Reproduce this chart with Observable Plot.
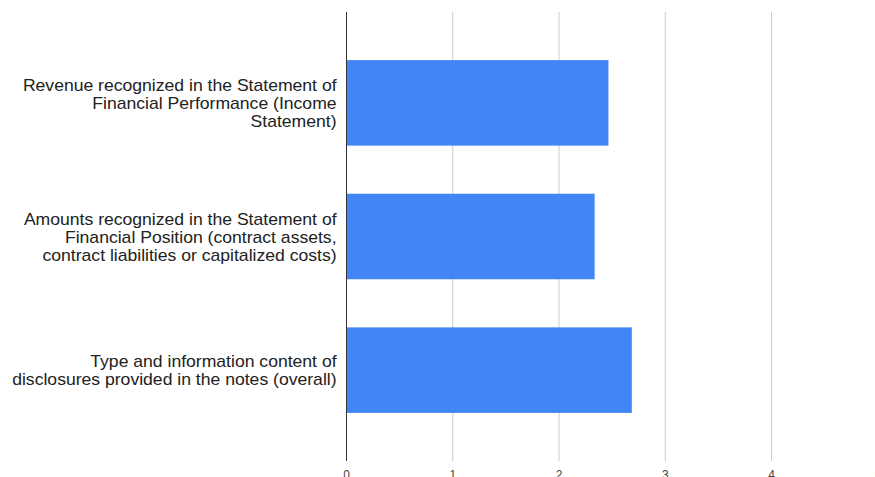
<!DOCTYPE html>
<html>
<head>
<meta charset="utf-8">
<script src="https://cdn.jsdelivr.net/npm/d3@7"></script>
<script src="https://cdn.jsdelivr.net/npm/@observablehq/plot@0.6"></script>
<style>
  html, body { margin: 0; padding: 0; background: #fff; }
  #chart { width: 875px; height: 477px; overflow: hidden; }
</style>
</head>
<body>
<div id="chart"></div>
<script>
const categories = [
  "Revenue recognized in the Statement of Financial Performance (Income Statement)",
  "Amounts recognized in the Statement of Financial Position (contract assets, contract liabilities or capitalized costs)",
  "Type and information content of disclosures provided in the notes (overall)"
];
const labelLines = [
  ["Revenue recognized in the Statement of", "Financial Performance (Income", "Statement)"],
  ["Amounts recognized in the Statement of", "Financial Position (contract assets,", "contract liabilities or capitalized costs)"],
  ["Type and information content of", "disclosures provided in the notes (overall)"]
];
const values = [2.47, 2.34, 2.69];
const xTicks = [0, 1, 2, 3, 4, 5];
const gridTicks = [1, 2, 3, 4, 5];

const data = categories.map((c, i) => ({category: c, value: values[i]}));
const labelMap = new Map(categories.map((c, i) => [c, labelLines[i].join("\n")]));

const chart = Plot.plot({
  width: 875,
  height: 477,
  marginTop: 12,
  marginBottom: 16,
  marginLeft: 346,
  marginRight: 0,
  style: {fontFamily: "Arial, 'Liberation Sans', sans-serif", background: "#fff"},
  x: {domain: [0, 5], range: [346, 877.25]},
  y: {domain: categories, range: [12, 461], padding: 0.36, round: false},
  marks: [
    Plot.ruleX(gridTicks, {stroke: "#cccccc", strokeWidth: 1, strokeOpacity: 1}),
    Plot.barX(data, {x: "value", y: "category", fill: "#4285f4"}),
    Plot.ruleX([0], {stroke: "#333333", strokeWidth: 1}),
    Plot.axisX({ticks: xTicks, tickSize: 0, tickPadding: 9, fontSize: 12, fill: "#444", tickFormat: d => String(d), label: null}),
    Plot.axisY({tickSize: 0, tickPadding: 10, fontSize: 16, lineHeight: 1.12, fill: "#222", tickFormat: d => labelMap.get(d), label: null})
  ]
});
// horizontal stretch of the category labels to match the reference's wide text
const yLabels = chart.querySelector('g[aria-label="y-axis tick label"]');
if (yLabels) {
  const wrap = document.createElementNS("http://www.w3.org/2000/svg", "g");
  wrap.setAttribute("transform", "translate(336,0) scale(1.1,1) translate(-336,0)");
  yLabels.parentNode.insertBefore(wrap, yLabels);
  wrap.appendChild(yLabels);
}
document.getElementById("chart").appendChild(chart);
</script>
</body>
</html>
